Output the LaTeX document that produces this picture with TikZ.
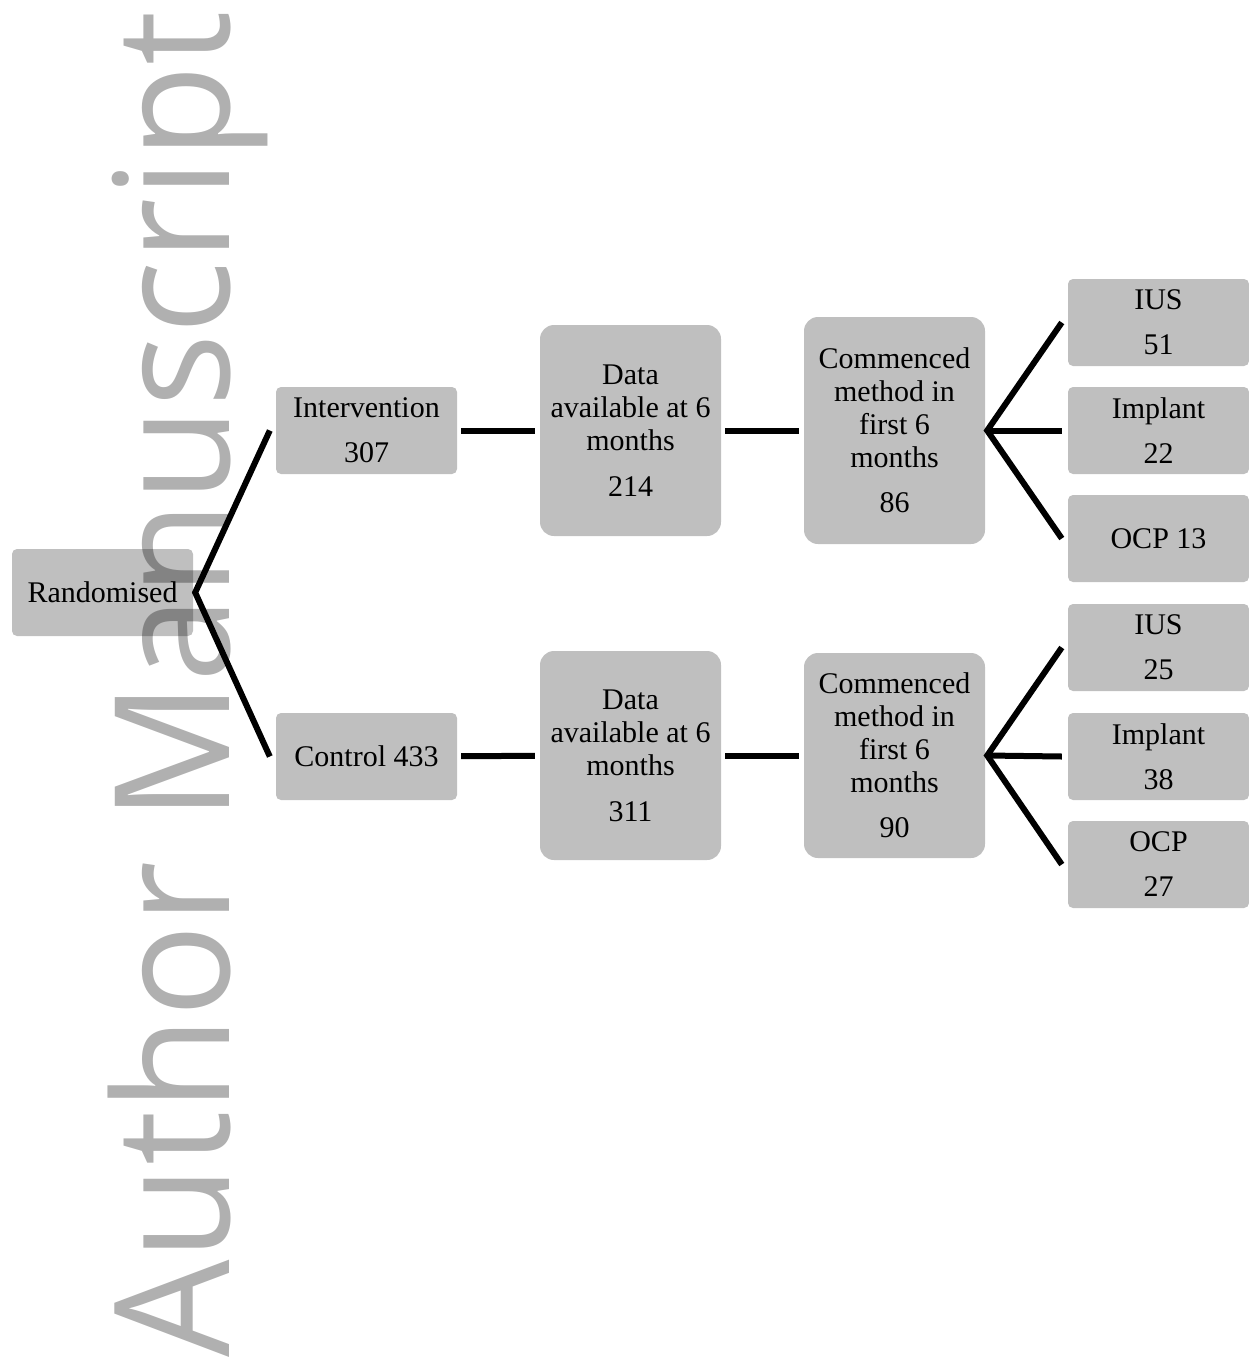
\documentclass[tikz,border=0pt]{standalone}
\usepackage{fontspec}
\setmainfont{Liberation Serif}
\newfontfamily\markfont{Open Sans}
\usepackage{graphicx}
\usepackage{tikz}
\usetikzlibrary{positioning}
\definecolor{boxgray}{RGB}{191,191,191}

\tikzset{
  box/.style={fill=boxgray, rounded corners=5pt, minimum width=181pt, minimum height=87pt,
    inner sep=0pt, align=center, font=\fontsize{30}{33}\selectfont},
  tallbox/.style={box, rounded corners=14pt},
  link/.style={line width=6pt, miter limit=10},
  straightlink/.style={link, shorten <=4pt, shorten >=5pt},
}

\begin{document}
\begin{tikzpicture}[x=1pt, y=-1pt]
    \useasboundingbox (0,0) rectangle (1249,1358);
    % Randomised
    \node[box] (rand) at (102.5,592.5) {Randomised};

    % Arms
    \node[box] (int) at (366.5,430.5) {Intervention\\[12pt]307};
    \node[box] (ctl) at (366.5,756.5) {Control 433};

    % Data at 6 months
    \node[tallbox, minimum height=211pt] (data1) at (630.5,430.5) {Data\\available at 6\\months\\[13pt]214};
    \node[tallbox, minimum height=209pt] (data2) at (630.5,755.5) {Data\\available at 6\\months\\[13pt]311};

    % Commenced method
    \node[tallbox, minimum height=227pt] (comm1) at (894.5,430.5) {Commenced\\method in\\first 6\\months\\[12pt]86};
    \node[tallbox, minimum height=205pt] (comm2) at (894.5,755.5) {Commenced\\method in\\first 6\\months\\[12pt]90};

    % Methods, intervention arm
    \node[box] (ius1) at (1158.5,322.5) {IUS\\[12pt]51};
    \node[box] (imp1) at (1158.5,430.5) {Implant\\[12pt]22};
    \node[box] (ocp1) at (1158.5,538.5) {OCP 13};

    % Methods, control arm
    \node[box] (ius2) at (1158.5,647.5) {IUS\\[12pt]25};
    \node[box] (imp2) at (1158.5,756.5) {Implant\\[12pt]38};
    \node[box] (ocp2) at (1158.5,864.5) {OCP\\[12pt]27};

    % Connectors
    \draw[link] ([xshift=-6pt]int.west) -- ([xshift=2pt]rand.east) -- ([xshift=-6pt]ctl.west);
    \draw[straightlink] (int) -- (data1);
    \draw[straightlink] (data1) -- (comm1);
    \draw[straightlink] (ctl) -- (data2);
    \draw[straightlink] (data2) -- (comm2);
    \draw[link] ([xshift=-6pt]ius1.west) -- ([xshift=2pt]comm1.east) -- ([xshift=-6pt]ocp1.west);
    \draw[link] ([xshift=2pt]comm1.east) -- ([xshift=-6pt]imp1.west);
    \draw[link] ([xshift=-6pt]ius2.west) -- ([xshift=2pt]comm2.east) -- ([xshift=-6pt]ocp2.west);
    \draw[link] ([xshift=2pt]comm2.east) -- ([xshift=-6pt]imp2.west);

    % Watermark
    \node[font=\markfont\fontsize{160}{160}\selectfont, text=black, text opacity=0.31,
        rotate=90, anchor=base west, inner sep=0pt] (mark) at (229,1358) {\scalebox{0.962}[1]{Author Manuscript}};
\end{tikzpicture}
\end{document}
